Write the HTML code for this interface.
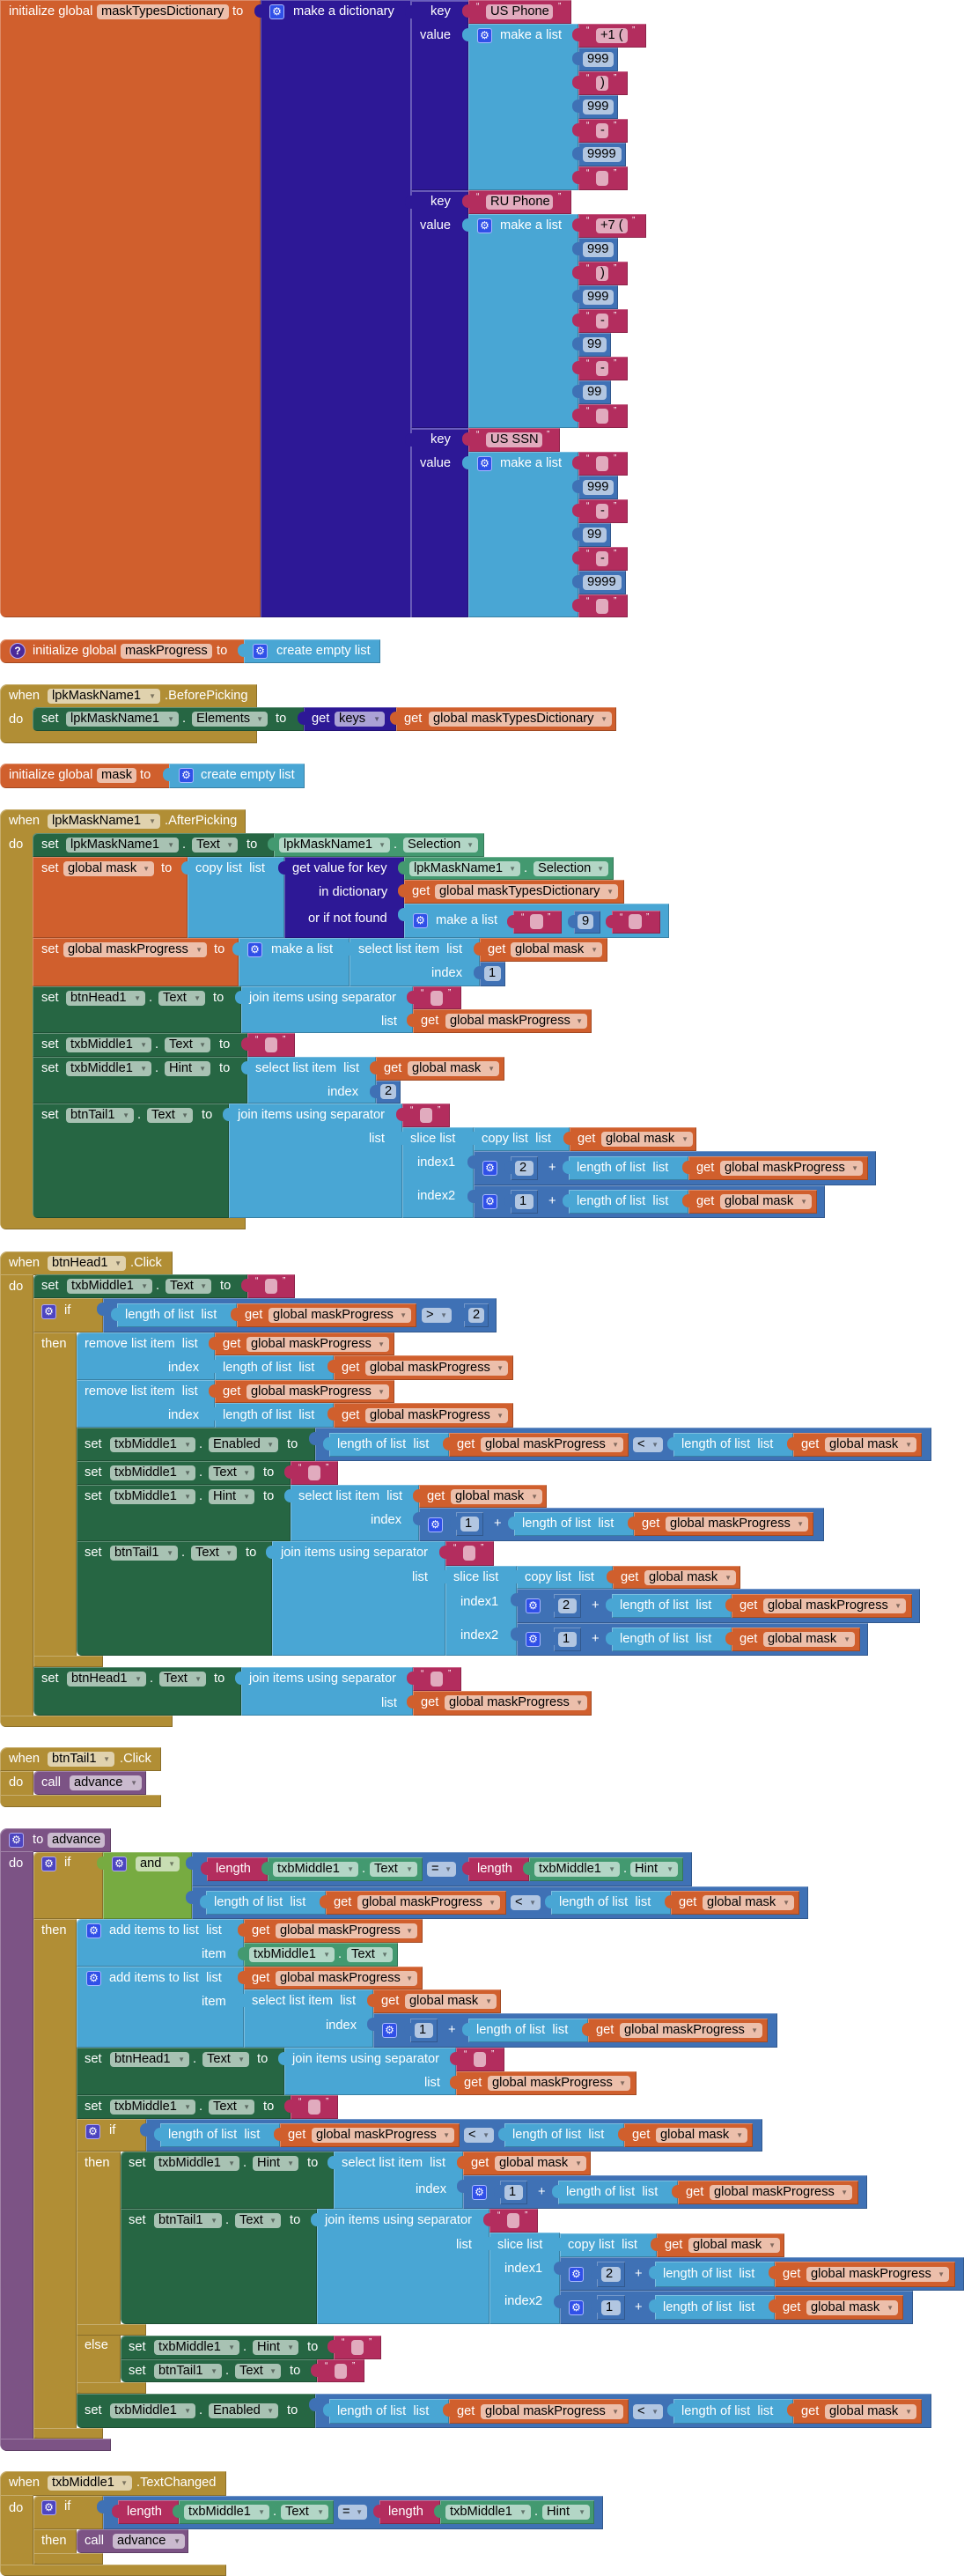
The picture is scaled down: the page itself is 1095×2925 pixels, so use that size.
<!DOCTYPE html>
<html><head><meta charset="utf-8"><style>
*{margin:0;padding:0;box-sizing:border-box}
html,body{width:1095px;height:2925px;background:#fff;overflow:hidden}
body{position:relative;font-family:"Liberation Sans",Arial,sans-serif;font-size:14.67px}
.b{position:absolute;box-shadow:inset 1px 1px 0 rgba(255,255,255,.28),inset -1px -1px 0 rgba(0,0,0,.22)}
.O{background:#d05f2d}.D{background:#2d1896}.L{background:#49a6d4}.T{background:#b32d5e}.M{background:#3f71b5}.S{background:#266643}.G{background:#439970}.C{background:#b18e35}.N{background:#77ab41}.P{background:#7c5385}
.v::before{content:"";position:absolute;left:-7px;top:5px;width:8px;height:15px;background:inherit;border-radius:7px 0 0 7px}
.pr{border-left:1px solid #6a5fc0;border-top:1px solid #6a5fc0}
i{position:absolute;font-style:normal;color:#fff;line-height:17px;white-space:nowrap}
em{position:absolute;font-style:normal;color:#000;height:17px;line-height:17px;padding-left:5px;border-radius:4px;background:rgba(255,255,255,.6);white-space:nowrap}
em b{position:absolute;right:5px;top:0;font-size:8px;color:rgba(0,0,0,.45);font-weight:normal}
.g{position:absolute;width:17px;height:17px;border-radius:3px;background:#3050e8;border:1px solid #a8b8ff;color:#fff;font-size:12px;line-height:15px;text-align:center;font-family:"DejaVu Sans",sans-serif}
.gp{background:#4d45c0;border-color:#b0a8f0}
.q{position:absolute;color:#fff;font-size:10px;line-height:10px;font-style:normal}
.qi{position:absolute;width:18px;height:18px;border-radius:9px;background:#4a2a9a;border:1px solid #c0b0ee;color:#fff;font-size:12px;line-height:16px;text-align:center;font-weight:bold}
</style></head><body>

<!-- ===== initialize global maskTypesDictionary ===== -->
<div class="b O" style="left:0;top:0;width:296px;height:701px;border-radius:0 0 0 7px"></div>
<i style="left:10px;top:5px">initialize global</i>
<em style="left:110px;top:5px;width:150px">maskTypesDictionary</em>
<i style="left:264px;top:5px">to</i>
<div class="b D v" style="left:296px;top:0;width:171px;height:701px"></div>
<span class="g" style="left:306px;top:5px">⚙</span>
<i style="left:333px;top:5px">make a dictionary</i>

<div class="b D v pr" style="left:466px;top:0;width:66px;height:216px"></div>
<i style="left:489px;top:5px">key</i><i style="left:477px;top:32px">value</i>
<div class="b D v pr" style="left:466px;top:216px;width:66px;height:270px"></div>
<i style="left:489px;top:221px">key</i><i style="left:477px;top:248px">value</i>
<div class="b D v pr" style="left:466px;top:486px;width:66px;height:215px"></div>
<i style="left:489px;top:491px">key</i><i style="left:477px;top:518px">value</i>

<!-- pair 1 -->
<div class="b T v" style="left:532px;top:0;width:117px;height:27px"></div>
<i class="q" style="left:541px;top:3px">“</i><em style="left:552px;top:5px;width:76px">US Phone</em><i class="q" style="left:634px;top:3px">”</i>
<div class="b L v" style="left:532px;top:27px;width:125px;height:189px"></div>
<span class="g" style="left:542px;top:32px">⚙</span><i style="left:568px;top:32px">make a list</i>

<div class="b T v" style="left:657px;top:27px;width:77px;height:27px"></div>
<i class="q" style="left:666px;top:30px">“</i><em style="left:677px;top:32px;width:36px">+1 (</em><i class="q" style="left:718px;top:30px">”</i>
<div class="b M v" style="left:657px;top:54px;width:45px;height:27px"></div><em style="left:662px;top:59px;width:35px">999</em>
<div class="b T v" style="left:657px;top:81px;width:56px;height:27px"></div>
<i class="q" style="left:666px;top:84px">“</i><em style="left:677px;top:86px;width:14px">)</em><i class="q" style="left:697px;top:84px">”</i>
<div class="b M v" style="left:657px;top:108px;width:45px;height:27px"></div><em style="left:662px;top:113px;width:35px">999</em>
<div class="b T v" style="left:657px;top:135px;width:56px;height:27px"></div>
<i class="q" style="left:666px;top:138px">“</i><em style="left:677px;top:140px;width:14px">-</em><i class="q" style="left:697px;top:138px">”</i>
<div class="b M v" style="left:657px;top:162px;width:54px;height:27px"></div><em style="left:662px;top:167px;width:44px">9999</em>
<div class="b T v" style="left:657px;top:189px;width:56px;height:27px"></div>
<i class="q" style="left:666px;top:192px">“</i><em style="left:677px;top:194px;width:14px"></em><i class="q" style="left:697px;top:192px">”</i>

<!-- pair 2 -->
<div class="b T v" style="left:532px;top:216px;width:117px;height:27px"></div>
<i class="q" style="left:541px;top:219px">“</i><em style="left:552px;top:221px;width:76px">RU Phone</em><i class="q" style="left:634px;top:219px">”</i>
<div class="b L v" style="left:532px;top:243px;width:125px;height:243px"></div>
<span class="g" style="left:542px;top:248px">⚙</span><i style="left:568px;top:248px">make a list</i>

<div class="b T v" style="left:657px;top:243px;width:77px;height:27px"></div>
<i class="q" style="left:666px;top:246px">“</i><em style="left:677px;top:248px;width:36px">+7 (</em><i class="q" style="left:718px;top:246px">”</i>
<div class="b M v" style="left:657px;top:270px;width:45px;height:27px"></div><em style="left:662px;top:275px;width:35px">999</em>
<div class="b T v" style="left:657px;top:297px;width:56px;height:27px"></div>
<i class="q" style="left:666px;top:300px">“</i><em style="left:677px;top:302px;width:14px">)</em><i class="q" style="left:697px;top:300px">”</i>
<div class="b M v" style="left:657px;top:324px;width:45px;height:27px"></div><em style="left:662px;top:329px;width:35px">999</em>
<div class="b T v" style="left:657px;top:351px;width:56px;height:27px"></div>
<i class="q" style="left:666px;top:354px">“</i><em style="left:677px;top:356px;width:14px">-</em><i class="q" style="left:697px;top:354px">”</i>
<div class="b M v" style="left:657px;top:378px;width:37px;height:27px"></div><em style="left:662px;top:383px;width:27px">99</em>
<div class="b T v" style="left:657px;top:405px;width:56px;height:27px"></div>
<i class="q" style="left:666px;top:408px">“</i><em style="left:677px;top:410px;width:14px">-</em><i class="q" style="left:697px;top:408px">”</i>
<div class="b M v" style="left:657px;top:432px;width:37px;height:27px"></div><em style="left:662px;top:437px;width:27px">99</em>
<div class="b T v" style="left:657px;top:459px;width:56px;height:27px"></div>
<i class="q" style="left:666px;top:462px">“</i><em style="left:677px;top:464px;width:14px"></em><i class="q" style="left:697px;top:462px">”</i>

<!-- pair 3 -->
<div class="b T v" style="left:532px;top:486px;width:104px;height:27px"></div>
<i class="q" style="left:541px;top:489px">“</i><em style="left:552px;top:491px;width:64px">US SSN</em><i class="q" style="left:621px;top:489px">”</i>
<div class="b L v" style="left:532px;top:513px;width:125px;height:188px"></div>
<span class="g" style="left:542px;top:518px">⚙</span><i style="left:568px;top:518px">make a list</i>

<div class="b T v" style="left:657px;top:513px;width:56px;height:27px"></div>
<i class="q" style="left:666px;top:516px">“</i><em style="left:677px;top:518px;width:14px"></em><i class="q" style="left:697px;top:516px">”</i>
<div class="b M v" style="left:657px;top:540px;width:45px;height:27px"></div><em style="left:662px;top:545px;width:35px">999</em>
<div class="b T v" style="left:657px;top:567px;width:56px;height:27px"></div>
<i class="q" style="left:666px;top:570px">“</i><em style="left:677px;top:572px;width:14px">-</em><i class="q" style="left:697px;top:570px">”</i>
<div class="b M v" style="left:657px;top:594px;width:37px;height:27px"></div><em style="left:662px;top:599px;width:27px">99</em>
<div class="b T v" style="left:657px;top:621px;width:56px;height:27px"></div>
<i class="q" style="left:666px;top:624px">“</i><em style="left:677px;top:626px;width:14px">-</em><i class="q" style="left:697px;top:624px">”</i>
<div class="b M v" style="left:657px;top:648px;width:54px;height:27px"></div><em style="left:662px;top:653px;width:44px">9999</em>
<div class="b T v" style="left:657px;top:675px;width:56px;height:26px"></div>
<i class="q" style="left:666px;top:678px">“</i><em style="left:677px;top:680px;width:14px"></em><i class="q" style="left:697px;top:678px">”</i>

<!-- ===== initialize global maskProgress ===== -->
<div class="b O" style="left:0;top:726px;width:278px;height:27px;border-radius:7px 0 0 7px"></div>
<span class="qi" style="left:11px;top:730px">?</span>
<i style="left:37px;top:731px">initialize global</i>
<em style="left:137px;top:731px;width:104px">maskProgress</em>
<i style="left:246px;top:731px">to</i>
<div class="b L v" style="left:277px;top:726px;width:155px;height:27px"></div>
<span class="g" style="left:287px;top:731px">⚙</span>
<i style="left:314px;top:731px">create empty list</i>

<!-- ===== when lpkMaskName1.BeforePicking ===== -->
<div class="b C" style="left:0;top:777px;width:292px;height:67px;border-radius:8px 0 0 7px"></div>
<i style="left:10px;top:782px">when</i>
<em style="left:54px;top:782px;width:128px">lpkMaskName1<b>▼</b></em>
<i style="left:187px;top:782px">.BeforePicking</i>
<i style="left:10px;top:809px">do</i>
<div class="b S" style="left:37px;top:803px;width:308px;height:27px;border-radius:5px 0 0 5px"></div>
<i style="left:47px;top:808px">set</i>
<em style="left:75px;top:808px;width:128px">lpkMaskName1<b>▼</b></em>
<i style="left:207px;top:808px">.</i>
<em style="left:218px;top:808px;width:86px">Elements<b>▼</b></em>
<i style="left:313px;top:808px">to</i>
<div class="b D v" style="left:345px;top:803px;width:105px;height:27px"></div>
<i style="left:354px;top:808px">get</i>
<em style="left:380px;top:808px;width:57px">keys<b>▼</b></em>
<div class="b O v" style="left:450px;top:803px;width:250px;height:27px"></div>
<i style="left:459px;top:808px">get</i>
<em style="left:487px;top:808px;width:208px">global maskTypesDictionary<b>▼</b></em>

<!-- ===== initialize global mask ===== -->
<div class="b O" style="left:0;top:867px;width:193px;height:28px;border-radius:7px 0 0 7px"></div>
<i style="left:10px;top:872px">initialize global</i>
<em style="left:110px;top:872px;width:45px">mask</em>
<i style="left:159px;top:872px">to</i>
<div class="b L v" style="left:192px;top:867px;width:154px;height:28px"></div>
<span class="g" style="left:203px;top:872px">⚙</span>
<i style="left:228px;top:872px">create empty list</i>

<!-- ===== when lpkMaskName1.AfterPicking ===== -->
<div class="b C" style="left:0;top:919px;width:279px;height:477px;border-radius:8px 0 0 7px"></div>
<i style="left:10px;top:924px">when</i>
<em style="left:54px;top:924px;width:128px">lpkMaskName1<b>▼</b></em>
<i style="left:187px;top:924px">.AfterPicking</i>
<i style="left:10px;top:951px">do</i>

<div class="b S" style="left:37px;top:946px;width:274px;height:27px;border-radius:5px 0 0 0"></div>
<i style="left:47px;top:951px">set</i>
<em style="left:75px;top:951px;width:128px">lpkMaskName1<b>▼</b></em>
<i style="left:207px;top:951px">.</i>
<em style="left:218px;top:951px;width:52px">Text<b>▼</b></em>
<i style="left:280px;top:951px">to</i>
<div class="b G v" style="left:311px;top:946px;width:239px;height:27px"></div>
<em style="left:317px;top:951px;width:126px">lpkMaskName1<b>▼</b></em>
<i style="left:447px;top:951px">.</i>
<em style="left:458px;top:951px;width:85px">Selection<b>▼</b></em>

<div class="b O" style="left:37px;top:973px;width:176px;height:92px"></div>
<i style="left:47px;top:978px">set</i>
<em style="left:72px;top:978px;width:103px">global mask<b>▼</b></em>
<i style="left:183px;top:978px">to</i>
<div class="b L v" style="left:213px;top:973px;width:110px;height:92px"></div>
<i style="left:222px;top:978px">copy list&nbsp; list</i>
<div class="b D v" style="left:323px;top:973px;width:136px;height:92px"></div>
<i style="left:332px;top:978px">get value for key</i>
<i style="left:362px;top:1005px">in dictionary</i>
<i style="left:350px;top:1035px">or if not found</i>
<div class="b G v" style="left:459px;top:973px;width:238px;height:26px"></div>
<em style="left:465px;top:978px;width:126px">lpkMaskName1<b>▼</b></em>
<i style="left:595px;top:978px">.</i>
<em style="left:606px;top:978px;width:85px">Selection<b>▼</b></em>
<div class="b O v" style="left:459px;top:999px;width:250px;height:27px"></div>
<i style="left:468px;top:1004px">get</i>
<em style="left:494px;top:1004px;width:208px">global maskTypesDictionary<b>▼</b></em>
<div class="b L v" style="left:459px;top:1026px;width:301px;height:39px"></div>
<span class="g" style="left:469px;top:1037px">⚙</span>
<i style="left:495px;top:1037px">make a list</i>
<div class="b T v" style="left:583px;top:1034px;width:55px;height:26px"></div>
<i class="q" style="left:592px;top:1037px">“</i><em style="left:602px;top:1038px;width:15px"></em><i class="q" style="left:622px;top:1037px">”</i>
<div class="b M v" style="left:652px;top:1034px;width:30px;height:26px"></div><em style="left:656px;top:1038px;width:18px">9</em>
<div class="b T v" style="left:695px;top:1034px;width:55px;height:26px"></div>
<i class="q" style="left:704px;top:1037px">“</i><em style="left:714px;top:1038px;width:15px"></em><i class="q" style="left:734px;top:1037px">”</i>

<div class="b O" style="left:37px;top:1065px;width:234px;height:55px"></div>
<i style="left:47px;top:1070px">set</i>
<em style="left:72px;top:1070px;width:163px">global maskProgress<b>▼</b></em>
<i style="left:243px;top:1070px">to</i>
<div class="b L v" style="left:271px;top:1065px;width:126px;height:55px"></div>
<span class="g" style="left:281px;top:1070px">⚙</span>
<i style="left:308px;top:1070px">make a list</i>
<div class="b L v" style="left:397px;top:1065px;width:148px;height:55px"></div>
<i style="left:407px;top:1070px">select list item&nbsp; list</i>
<i style="left:490px;top:1097px">index</i>
<div class="b O v" style="left:545px;top:1065px;width:145px;height:27px"></div>
<i style="left:554px;top:1070px">get</i>
<em style="left:580px;top:1070px;width:104px">global mask<b>▼</b></em>
<div class="b M v" style="left:545px;top:1092px;width:29px;height:28px"></div><em style="left:550px;top:1097px;width:19px">1</em>

<div class="b S" style="left:37px;top:1120px;width:237px;height:53px"></div>
<i style="left:47px;top:1125px">set</i>
<em style="left:75px;top:1125px;width:90px">btnHead1<b>▼</b></em>
<i style="left:169px;top:1125px">.</i>
<em style="left:180px;top:1125px;width:53px">Text<b>▼</b></em>
<i style="left:242px;top:1125px">to</i>
<div class="b L v" style="left:274px;top:1120px;width:195px;height:53px"></div>
<i style="left:283px;top:1125px">join items using separator</i>
<i style="left:433px;top:1152px">list</i>
<div class="b T v" style="left:469px;top:1120px;width:55px;height:26px"></div>
<i class="q" style="left:478px;top:1123px">“</i><em style="left:489px;top:1125px;width:14px"></em><i class="q" style="left:509px;top:1123px">”</i>
<div class="b O v" style="left:469px;top:1146px;width:203px;height:27px"></div>
<i style="left:478px;top:1151px">get</i>
<em style="left:506px;top:1151px;width:161px">global maskProgress<b>▼</b></em>

<div class="b S" style="left:37px;top:1173px;width:244px;height:27px"></div>
<i style="left:47px;top:1178px">set</i>
<em style="left:75px;top:1178px;width:97px">txbMiddle1<b>▼</b></em>
<i style="left:176px;top:1178px">.</i>
<em style="left:187px;top:1178px;width:52px">Text<b>▼</b></em>
<i style="left:249px;top:1178px">to</i>
<div class="b T v" style="left:281px;top:1173px;width:54px;height:27px"></div>
<i class="q" style="left:290px;top:1176px">“</i><em style="left:301px;top:1178px;width:14px"></em><i class="q" style="left:321px;top:1176px">”</i>

<div class="b S" style="left:37px;top:1200px;width:244px;height:53px"></div>
<i style="left:47px;top:1205px">set</i>
<em style="left:75px;top:1205px;width:97px">txbMiddle1<b>▼</b></em>
<i style="left:176px;top:1205px">.</i>
<em style="left:187px;top:1205px;width:52px">Hint<b>▼</b></em>
<i style="left:249px;top:1205px">to</i>
<div class="b L v" style="left:281px;top:1200px;width:146px;height:53px"></div>
<i style="left:290px;top:1205px">select list item&nbsp; list</i>
<i style="left:372px;top:1232px">index</i>
<div class="b O v" style="left:427px;top:1200px;width:146px;height:27px"></div>
<i style="left:436px;top:1205px">get</i>
<em style="left:463px;top:1205px;width:104px">global mask<b>▼</b></em>
<div class="b M v" style="left:427px;top:1227px;width:28px;height:26px"></div><em style="left:432px;top:1231px;width:18px">2</em>

<div class="b S" style="left:37px;top:1253px;width:223px;height:130px;border-radius:0 0 0 6px"></div>
<i style="left:47px;top:1258px">set</i>
<em style="left:75px;top:1258px;width:77px">btnTail1<b>▼</b></em>
<i style="left:156px;top:1258px">.</i>
<em style="left:167px;top:1258px;width:52px">Text<b>▼</b></em>
<i style="left:229px;top:1258px">to</i>
<div class="b L v" style="left:260px;top:1253px;width:197px;height:130px"></div>
<i style="left:270px;top:1258px">join items using separator</i>
<i style="left:419px;top:1285px">list</i>
<div class="b T v" style="left:457px;top:1253px;width:54px;height:27px"></div>
<i class="q" style="left:466px;top:1256px">“</i><em style="left:477px;top:1258px;width:14px"></em><i class="q" style="left:497px;top:1256px">”</i>
<div class="b L v" style="left:457px;top:1280px;width:81px;height:103px"></div>
<i style="left:466px;top:1285px">slice list</i>
<i style="left:474px;top:1312px">index1</i>
<i style="left:474px;top:1350px">index2</i>
<div class="b L v" style="left:538px;top:1280px;width:109px;height:27px"></div>
<i style="left:547px;top:1285px">copy list&nbsp; list</i>
<div class="b O v" style="left:647px;top:1280px;width:144px;height:27px"></div>
<i style="left:656px;top:1285px">get</i>
<em style="left:683px;top:1285px;width:104px">global mask<b>▼</b></em>
<div class="b M v" style="left:538px;top:1307px;width:457px;height:39px"></div>
<span class="g" style="left:548px;top:1318px">⚙</span>
<div class="b M v" style="left:580px;top:1313px;width:31px;height:27px"></div><em style="left:585px;top:1318px;width:21px">2</em>
<i style="left:623px;top:1318px">+</i>
<div class="b L v" style="left:646px;top:1313px;width:136px;height:27px"></div>
<i style="left:655px;top:1318px">length of list&nbsp; list</i>
<div class="b O v" style="left:782px;top:1313px;width:204px;height:27px"></div>
<i style="left:791px;top:1318px">get</i>
<em style="left:818px;top:1318px;width:162px">global maskProgress<b>▼</b></em>
<div class="b M v" style="left:538px;top:1346px;width:399px;height:37px"></div>
<span class="g" style="left:548px;top:1356px">⚙</span>
<div class="b M v" style="left:580px;top:1351px;width:31px;height:27px"></div><em style="left:585px;top:1356px;width:21px">1</em>
<i style="left:623px;top:1356px">+</i>
<div class="b L v" style="left:646px;top:1351px;width:136px;height:27px"></div>
<i style="left:655px;top:1356px">length of list&nbsp; list</i>
<div class="b O v" style="left:782px;top:1351px;width:146px;height:27px"></div>
<i style="left:791px;top:1356px">get</i>
<em style="left:818px;top:1356px;width:104px">global mask<b>▼</b></em>

<!-- ===== when btnHead1.Click ===== -->
<div class="b C" style="left:0;top:1421px;width:196px;height:27px;border-radius:8px 0 0 0"></div>
<div class="b C" style="left:0;top:1447px;width:38px;height:514px;border-radius:0 0 0 7px"></div>
<div class="b C" style="left:0;top:1948px;width:196px;height:13px;border-radius:0 0 0 7px"></div>
<i style="left:10px;top:1426px">when</i>
<em style="left:54px;top:1426px;width:89px">btnHead1<b>▼</b></em>
<i style="left:148px;top:1426px">.Click</i>
<i style="left:10px;top:1453px">do</i>

<div class="b S" style="left:38px;top:1447px;width:243px;height:27px;border-radius:5px 0 0 0"></div>
<i style="left:47px;top:1452px">set</i>
<em style="left:76px;top:1452px;width:97px">txbMiddle1<b>▼</b></em>
<i style="left:177px;top:1452px">.</i>
<em style="left:188px;top:1452px;width:52px">Text<b>▼</b></em>
<i style="left:250px;top:1452px">to</i>
<div class="b T v" style="left:281px;top:1447px;width:54px;height:27px"></div>
<i class="q" style="left:290px;top:1450px">“</i><em style="left:301px;top:1452px;width:14px"></em><i class="q" style="left:321px;top:1450px">”</i>

<div class="b C" style="left:38px;top:1474px;width:79px;height:39px"></div>
<div class="b C" style="left:38px;top:1513px;width:49px;height:380px"></div>
<div class="b C" style="left:38px;top:1880px;width:79px;height:13px;border-radius:0 0 0 6px"></div>
<span class="g gp" style="left:47px;top:1481px">⚙</span>
<i style="left:73px;top:1480px">if</i>
<i style="left:47px;top:1518px">then</i>
<div class="b M v" style="left:117px;top:1474px;width:447px;height:39px"></div>
<div class="b L v" style="left:133px;top:1480px;width:136px;height:27px"></div>
<i style="left:142px;top:1485px">length of list&nbsp; list</i>
<div class="b O v" style="left:269px;top:1480px;width:204px;height:27px"></div>
<i style="left:278px;top:1485px">get</i>
<em style="left:305px;top:1485px;width:162px">global maskProgress<b>▼</b></em>
<em style="left:479px;top:1485px;width:34px">&gt;<b>▼</b></em>
<div class="b M v" style="left:527px;top:1480px;width:28px;height:27px"></div><em style="left:532px;top:1485px;width:18px">2</em>

<div class="b L" style="left:87px;top:1513px;width:157px;height:54px;border-radius:5px 0 0 0"></div>
<i style="left:96px;top:1518px">remove list item&nbsp; list</i>
<i style="left:191px;top:1545px">index</i>
<div class="b O v" style="left:244px;top:1513px;width:204px;height:26px"></div>
<i style="left:253px;top:1518px">get</i>
<em style="left:280px;top:1518px;width:162px">global maskProgress<b>▼</b></em>
<div class="b L v" style="left:244px;top:1539px;width:135px;height:28px"></div>
<i style="left:253px;top:1545px">length of list&nbsp; list</i>
<div class="b O v" style="left:379px;top:1539px;width:204px;height:28px"></div>
<i style="left:388px;top:1545px">get</i>
<em style="left:415px;top:1545px;width:162px">global maskProgress<b>▼</b></em>

<div class="b L" style="left:87px;top:1567px;width:157px;height:54px"></div>
<i style="left:96px;top:1572px">remove list item&nbsp; list</i>
<i style="left:191px;top:1599px">index</i>
<div class="b O v" style="left:244px;top:1567px;width:204px;height:26px"></div>
<i style="left:253px;top:1572px">get</i>
<em style="left:280px;top:1572px;width:162px">global maskProgress<b>▼</b></em>
<div class="b L v" style="left:244px;top:1593px;width:135px;height:28px"></div>
<i style="left:253px;top:1599px">length of list&nbsp; list</i>
<div class="b O v" style="left:379px;top:1593px;width:204px;height:28px"></div>
<i style="left:388px;top:1599px">get</i>
<em style="left:415px;top:1599px;width:162px">global maskProgress<b>▼</b></em>

<div class="b S" style="left:87px;top:1621px;width:271px;height:38px"></div>
<i style="left:96px;top:1632px">set</i>
<em style="left:125px;top:1632px;width:97px">txbMiddle1<b>▼</b></em>
<i style="left:226px;top:1632px">.</i>
<em style="left:237px;top:1632px;width:79px">Enabled<b>▼</b></em>
<i style="left:326px;top:1632px">to</i>
<div class="b M v" style="left:358px;top:1621px;width:700px;height:38px"></div>
<div class="b L v" style="left:374px;top:1627px;width:136px;height:27px"></div>
<i style="left:383px;top:1632px">length of list&nbsp; list</i>
<div class="b O v" style="left:510px;top:1627px;width:204px;height:27px"></div>
<i style="left:519px;top:1632px">get</i>
<em style="left:546px;top:1632px;width:162px">global maskProgress<b>▼</b></em>
<em style="left:719px;top:1632px;width:34px">&lt;<b>▼</b></em>
<div class="b L v" style="left:765px;top:1627px;width:136px;height:27px"></div>
<i style="left:774px;top:1632px">length of list&nbsp; list</i>
<div class="b O v" style="left:901px;top:1627px;width:146px;height:27px"></div>
<i style="left:910px;top:1632px">get</i>
<em style="left:937px;top:1632px;width:104px">global mask<b>▼</b></em>

<div class="b S" style="left:87px;top:1659px;width:243px;height:27px"></div>
<i style="left:96px;top:1664px">set</i>
<em style="left:125px;top:1664px;width:97px">txbMiddle1<b>▼</b></em>
<i style="left:226px;top:1664px">.</i>
<em style="left:237px;top:1664px;width:52px">Text<b>▼</b></em>
<i style="left:299px;top:1664px">to</i>
<div class="b T v" style="left:330px;top:1659px;width:54px;height:27px"></div>
<i class="q" style="left:339px;top:1662px">“</i><em style="left:350px;top:1664px;width:14px"></em><i class="q" style="left:370px;top:1662px">”</i>

<div class="b S" style="left:87px;top:1686px;width:243px;height:64px"></div>
<i style="left:96px;top:1691px">set</i>
<em style="left:125px;top:1691px;width:97px">txbMiddle1<b>▼</b></em>
<i style="left:226px;top:1691px">.</i>
<em style="left:237px;top:1691px;width:52px">Hint<b>▼</b></em>
<i style="left:299px;top:1691px">to</i>
<div class="b L v" style="left:330px;top:1686px;width:146px;height:64px"></div>
<i style="left:339px;top:1691px">select list item&nbsp; list</i>
<i style="left:421px;top:1718px">index</i>
<div class="b O v" style="left:476px;top:1686px;width:145px;height:26px"></div>
<i style="left:485px;top:1691px">get</i>
<em style="left:512px;top:1691px;width:104px">global mask<b>▼</b></em>
<div class="b M v" style="left:476px;top:1712px;width:460px;height:38px"></div>
<span class="g" style="left:486px;top:1723px">⚙</span>
<div class="b M v" style="left:518px;top:1717px;width:31px;height:27px"></div><em style="left:523px;top:1722px;width:21px">1</em>
<i style="left:561px;top:1722px">+</i>
<div class="b L v" style="left:584px;top:1717px;width:136px;height:27px"></div>
<i style="left:593px;top:1722px">length of list&nbsp; list</i>
<div class="b O v" style="left:720px;top:1717px;width:204px;height:27px"></div>
<i style="left:729px;top:1722px">get</i>
<em style="left:756px;top:1722px;width:162px">global maskProgress<b>▼</b></em>

<div class="b S" style="left:87px;top:1750px;width:222px;height:130px;border-radius:0 0 0 6px"></div>
<i style="left:96px;top:1755px">set</i>
<em style="left:125px;top:1755px;width:77px">btnTail1<b>▼</b></em>
<i style="left:206px;top:1755px">.</i>
<em style="left:217px;top:1755px;width:52px">Text<b>▼</b></em>
<i style="left:279px;top:1755px">to</i>
<div class="b L v" style="left:309px;top:1750px;width:197px;height:130px"></div>
<i style="left:319px;top:1755px">join items using separator</i>
<i style="left:468px;top:1783px">list</i>
<div class="b T v" style="left:506px;top:1750px;width:55px;height:28px"></div>
<i class="q" style="left:515px;top:1753px">“</i><em style="left:526px;top:1755px;width:14px"></em><i class="q" style="left:546px;top:1753px">”</i>
<div class="b L v" style="left:506px;top:1778px;width:81px;height:102px"></div>
<i style="left:515px;top:1783px">slice list</i>
<i style="left:523px;top:1811px">index1</i>
<i style="left:523px;top:1849px">index2</i>
<div class="b L v" style="left:587px;top:1778px;width:109px;height:26px"></div>
<i style="left:596px;top:1783px">copy list&nbsp; list</i>
<div class="b O v" style="left:696px;top:1778px;width:145px;height:26px"></div>
<i style="left:705px;top:1783px">get</i>
<em style="left:732px;top:1783px;width:104px">global mask<b>▼</b></em>
<div class="b M v" style="left:587px;top:1804px;width:458px;height:39px"></div>
<span class="g" style="left:597px;top:1815px">⚙</span>
<div class="b M v" style="left:629px;top:1810px;width:31px;height:27px"></div><em style="left:634px;top:1815px;width:21px">2</em>
<i style="left:672px;top:1815px">+</i>
<div class="b L v" style="left:695px;top:1810px;width:136px;height:27px"></div>
<i style="left:704px;top:1815px">length of list&nbsp; list</i>
<div class="b O v" style="left:831px;top:1810px;width:205px;height:27px"></div>
<i style="left:840px;top:1815px">get</i>
<em style="left:867px;top:1815px;width:162px">global maskProgress<b>▼</b></em>
<div class="b M v" style="left:587px;top:1843px;width:399px;height:37px"></div>
<span class="g" style="left:597px;top:1853px">⚙</span>
<div class="b M v" style="left:629px;top:1848px;width:31px;height:27px"></div><em style="left:634px;top:1853px;width:21px">1</em>
<i style="left:672px;top:1853px">+</i>
<div class="b L v" style="left:695px;top:1848px;width:136px;height:27px"></div>
<i style="left:704px;top:1853px">length of list&nbsp; list</i>
<div class="b O v" style="left:831px;top:1848px;width:146px;height:27px"></div>
<i style="left:840px;top:1853px">get</i>
<em style="left:867px;top:1853px;width:104px">global mask<b>▼</b></em>

<div class="b S" style="left:38px;top:1893px;width:236px;height:55px;border-radius:0 0 0 6px"></div>
<i style="left:47px;top:1898px">set</i>
<em style="left:76px;top:1898px;width:90px">btnHead1<b>▼</b></em>
<i style="left:170px;top:1898px">.</i>
<em style="left:181px;top:1898px;width:53px">Text<b>▼</b></em>
<i style="left:243px;top:1898px">to</i>
<div class="b L v" style="left:274px;top:1893px;width:195px;height:55px"></div>
<i style="left:283px;top:1898px">join items using separator</i>
<i style="left:433px;top:1926px">list</i>
<div class="b T v" style="left:469px;top:1893px;width:55px;height:27px"></div>
<i class="q" style="left:478px;top:1896px">“</i><em style="left:489px;top:1898px;width:14px"></em><i class="q" style="left:509px;top:1896px">”</i>
<div class="b O v" style="left:469px;top:1920px;width:203px;height:28px"></div>
<i style="left:478px;top:1925px">get</i>
<em style="left:505px;top:1925px;width:162px">global maskProgress<b>▼</b></em>

<!-- ===== when btnTail1.Click ===== -->
<div class="b C" style="left:0;top:1984px;width:183px;height:27px;border-radius:8px 0 0 0"></div>
<div class="b C" style="left:0;top:2011px;width:38px;height:41px;border-radius:0 0 0 7px"></div>
<div class="b C" style="left:0;top:2038px;width:183px;height:14px;border-radius:0 0 0 7px"></div>
<i style="left:10px;top:1989px">when</i>
<em style="left:54px;top:1989px;width:76px">btnTail1<b>▼</b></em>
<i style="left:136px;top:1989px">.Click</i>
<i style="left:10px;top:2016px">do</i>
<div class="b P" style="left:38px;top:2011px;width:128px;height:27px;border-radius:5px 0 0 5px"></div>
<i style="left:47px;top:2016px">call</i>
<em style="left:79px;top:2016px;width:82px">advance<b>▼</b></em>

<!-- ===== to advance ===== -->
<div class="b P" style="left:0;top:2076px;width:126px;height:27px;border-radius:8px 0 0 0"></div>
<div class="b P" style="left:0;top:2102px;width:38px;height:681px;border-radius:0 0 0 8px"></div>
<div class="b P" style="left:0;top:2769px;width:126px;height:14px;border-radius:0 0 0 8px"></div>
<span class="g gp" style="left:10px;top:2081px">⚙</span>
<i style="left:37px;top:2081px">to</i>
<em style="left:54px;top:2081px;width:65px">advance</em>
<i style="left:10px;top:2108px">do</i>

<div class="b C" style="left:38px;top:2103px;width:79px;height:76px;border-radius:5px 0 0 0"></div>
<div class="b C" style="left:38px;top:2179px;width:49px;height:590px"></div>
<div class="b C" style="left:38px;top:2757px;width:79px;height:12px;border-radius:0 0 0 6px"></div>
<span class="g gp" style="left:47px;top:2108px">⚙</span>
<i style="left:73px;top:2107px">if</i>
<i style="left:47px;top:2184px">then</i>
<div class="b N v" style="left:117px;top:2103px;width:101px;height:76px"></div>
<span class="g gp" style="left:127px;top:2108px">⚙</span>
<em style="left:154px;top:2108px;width:50px">and<b>▼</b></em>

<div class="b M v" style="left:218px;top:2103px;width:568px;height:39px"></div>
<div class="b T v" style="left:235px;top:2109px;width:69px;height:27px"></div>
<i style="left:245px;top:2114px">length</i>
<div class="b G v" style="left:304px;top:2109px;width:176px;height:27px"></div>
<em style="left:310px;top:2114px;width:97px">txbMiddle1<b>▼</b></em>
<i style="left:411px;top:2114px">.</i>
<em style="left:420px;top:2114px;width:54px">Text<b>▼</b></em>
<em style="left:485px;top:2114px;width:33px">=<b>▼</b></em>
<div class="b T v" style="left:532px;top:2109px;width:69px;height:27px"></div>
<i style="left:542px;top:2114px">length</i>
<div class="b G v" style="left:601px;top:2109px;width:175px;height:27px"></div>
<em style="left:607px;top:2114px;width:97px">txbMiddle1<b>▼</b></em>
<i style="left:708px;top:2114px">.</i>
<em style="left:716px;top:2114px;width:54px">Hint<b>▼</b></em>

<div class="b M v" style="left:218px;top:2142px;width:700px;height:37px"></div>
<div class="b L v" style="left:234px;top:2147px;width:136px;height:27px"></div>
<i style="left:243px;top:2152px">length of list&nbsp; list</i>
<div class="b O v" style="left:370px;top:2147px;width:205px;height:27px"></div>
<i style="left:379px;top:2152px">get</i>
<em style="left:406px;top:2152px;width:162px">global maskProgress<b>▼</b></em>
<em style="left:580px;top:2152px;width:34px">&lt;<b>▼</b></em>
<div class="b L v" style="left:626px;top:2147px;width:136px;height:27px"></div>
<i style="left:635px;top:2152px">length of list&nbsp; list</i>
<div class="b O v" style="left:762px;top:2147px;width:146px;height:27px"></div>
<i style="left:771px;top:2152px">get</i>
<em style="left:798px;top:2152px;width:104px">global mask<b>▼</b></em>

<div class="b L" style="left:87px;top:2179px;width:190px;height:54px;border-radius:5px 0 0 0"></div>
<span class="g" style="left:98px;top:2184px">⚙</span>
<i style="left:124px;top:2184px">add items to list&nbsp; list</i>
<i style="left:229px;top:2211px">item</i>
<div class="b O v" style="left:277px;top:2179px;width:203px;height:27px"></div>
<i style="left:286px;top:2184px">get</i>
<em style="left:313px;top:2184px;width:161px">global maskProgress<b>▼</b></em>
<div class="b G v" style="left:277px;top:2206px;width:175px;height:27px"></div>
<em style="left:283px;top:2211px;width:97px">txbMiddle1<b>▼</b></em>
<i style="left:384px;top:2211px">.</i>
<em style="left:394px;top:2211px;width:52px">Text<b>▼</b></em>

<div class="b L" style="left:87px;top:2233px;width:190px;height:92px"></div>
<span class="g" style="left:98px;top:2238px">⚙</span>
<i style="left:124px;top:2238px">add items to list&nbsp; list</i>
<i style="left:229px;top:2265px">item</i>
<div class="b O v" style="left:277px;top:2233px;width:203px;height:26px"></div>
<i style="left:286px;top:2238px">get</i>
<em style="left:313px;top:2238px;width:161px">global maskProgress<b>▼</b></em>
<div class="b L v" style="left:277px;top:2259px;width:147px;height:66px"></div>
<i style="left:286px;top:2264px">select list item&nbsp; list</i>
<i style="left:370px;top:2292px">index</i>
<div class="b O v" style="left:424px;top:2259px;width:145px;height:27px"></div>
<i style="left:433px;top:2264px">get</i>
<em style="left:460px;top:2264px;width:104px">global mask<b>▼</b></em>
<div class="b M v" style="left:424px;top:2286px;width:459px;height:39px"></div>
<span class="g" style="left:434px;top:2297px">⚙</span>
<div class="b M v" style="left:466px;top:2292px;width:31px;height:27px"></div><em style="left:471px;top:2297px;width:21px">1</em>
<i style="left:509px;top:2297px">+</i>
<div class="b L v" style="left:532px;top:2292px;width:136px;height:27px"></div>
<i style="left:541px;top:2297px">length of list&nbsp; list</i>
<div class="b O v" style="left:668px;top:2292px;width:204px;height:27px"></div>
<i style="left:677px;top:2297px">get</i>
<em style="left:704px;top:2297px;width:162px">global maskProgress<b>▼</b></em>

<div class="b S" style="left:87px;top:2325px;width:236px;height:54px"></div>
<i style="left:96px;top:2330px">set</i>
<em style="left:125px;top:2330px;width:90px">btnHead1<b>▼</b></em>
<i style="left:219px;top:2330px">.</i>
<em style="left:230px;top:2330px;width:53px">Text<b>▼</b></em>
<i style="left:292px;top:2330px">to</i>
<div class="b L v" style="left:323px;top:2325px;width:195px;height:54px"></div>
<i style="left:332px;top:2330px">join items using separator</i>
<i style="left:482px;top:2357px">list</i>
<div class="b T v" style="left:518px;top:2325px;width:55px;height:27px"></div>
<i class="q" style="left:527px;top:2328px">“</i><em style="left:538px;top:2330px;width:14px"></em><i class="q" style="left:558px;top:2328px">”</i>
<div class="b O v" style="left:518px;top:2352px;width:205px;height:27px"></div>
<i style="left:527px;top:2357px">get</i>
<em style="left:554px;top:2357px;width:162px">global maskProgress<b>▼</b></em>

<div class="b S" style="left:87px;top:2379px;width:243px;height:27px"></div>
<i style="left:96px;top:2384px">set</i>
<em style="left:125px;top:2384px;width:97px">txbMiddle1<b>▼</b></em>
<i style="left:226px;top:2384px">.</i>
<em style="left:237px;top:2384px;width:52px">Text<b>▼</b></em>
<i style="left:299px;top:2384px">to</i>
<div class="b T v" style="left:330px;top:2379px;width:54px;height:27px"></div>
<i class="q" style="left:339px;top:2382px">“</i><em style="left:350px;top:2384px;width:14px"></em><i class="q" style="left:370px;top:2382px">”</i>

<!-- inner if/else -->
<div class="b C" style="left:87px;top:2406px;width:79px;height:37px"></div>
<div class="b C" style="left:87px;top:2443px;width:50px;height:275px"></div>
<div class="b C" style="left:87px;top:2639px;width:79px;height:13px"></div>
<div class="b C" style="left:87px;top:2705px;width:79px;height:13px;border-radius:0 0 0 6px"></div>
<span class="g gp" style="left:97px;top:2412px">⚙</span>
<i style="left:124px;top:2411px">if</i>
<i style="left:96px;top:2448px">then</i>
<i style="left:96px;top:2655px">else</i>
<div class="b M v" style="left:166px;top:2406px;width:700px;height:37px"></div>
<div class="b L v" style="left:182px;top:2411px;width:136px;height:27px"></div>
<i style="left:191px;top:2416px">length of list&nbsp; list</i>
<div class="b O v" style="left:318px;top:2411px;width:204px;height:27px"></div>
<i style="left:327px;top:2416px">get</i>
<em style="left:354px;top:2416px;width:162px">global maskProgress<b>▼</b></em>
<em style="left:527px;top:2416px;width:34px">&lt;<b>▼</b></em>
<div class="b L v" style="left:573px;top:2411px;width:136px;height:27px"></div>
<i style="left:582px;top:2416px">length of list&nbsp; list</i>
<div class="b O v" style="left:709px;top:2411px;width:146px;height:27px"></div>
<i style="left:718px;top:2416px">get</i>
<em style="left:745px;top:2416px;width:104px">global mask<b>▼</b></em>

<div class="b S" style="left:137px;top:2443px;width:242px;height:65px;border-radius:5px 0 0 0"></div>
<i style="left:146px;top:2448px">set</i>
<em style="left:175px;top:2448px;width:97px">txbMiddle1<b>▼</b></em>
<i style="left:276px;top:2448px">.</i>
<em style="left:287px;top:2448px;width:52px">Hint<b>▼</b></em>
<i style="left:349px;top:2448px">to</i>
<div class="b L v" style="left:379px;top:2443px;width:147px;height:65px"></div>
<i style="left:388px;top:2448px">select list item&nbsp; list</i>
<i style="left:472px;top:2478px">index</i>
<div class="b O v" style="left:526px;top:2443px;width:145px;height:27px"></div>
<i style="left:535px;top:2448px">get</i>
<em style="left:562px;top:2448px;width:104px">global mask<b>▼</b></em>
<div class="b M v" style="left:526px;top:2470px;width:459px;height:38px"></div>
<span class="g" style="left:536px;top:2481px">⚙</span>
<div class="b M v" style="left:568px;top:2476px;width:31px;height:27px"></div><em style="left:573px;top:2481px;width:21px">1</em>
<i style="left:611px;top:2481px">+</i>
<div class="b L v" style="left:634px;top:2476px;width:136px;height:27px"></div>
<i style="left:643px;top:2481px">length of list&nbsp; list</i>
<div class="b O v" style="left:770px;top:2476px;width:205px;height:27px"></div>
<i style="left:779px;top:2481px">get</i>
<em style="left:806px;top:2481px;width:162px">global maskProgress<b>▼</b></em>

<div class="b S" style="left:137px;top:2508px;width:223px;height:131px;border-radius:0 0 0 6px"></div>
<i style="left:146px;top:2513px">set</i>
<em style="left:175px;top:2513px;width:77px">btnTail1<b>▼</b></em>
<i style="left:256px;top:2513px">.</i>
<em style="left:267px;top:2513px;width:52px">Text<b>▼</b></em>
<i style="left:329px;top:2513px">to</i>
<div class="b L v" style="left:360px;top:2508px;width:196px;height:131px"></div>
<i style="left:369px;top:2513px">join items using separator</i>
<i style="left:518px;top:2541px">list</i>
<div class="b T v" style="left:556px;top:2508px;width:55px;height:27px"></div>
<i class="q" style="left:565px;top:2511px">“</i><em style="left:576px;top:2513px;width:14px"></em><i class="q" style="left:596px;top:2511px">”</i>
<div class="b L v" style="left:556px;top:2535px;width:80px;height:104px"></div>
<i style="left:565px;top:2541px">slice list</i>
<i style="left:573px;top:2568px">index1</i>
<i style="left:573px;top:2605px">index2</i>
<div class="b L v" style="left:636px;top:2536px;width:110px;height:27px"></div>
<i style="left:645px;top:2541px">copy list&nbsp; list</i>
<div class="b O v" style="left:746px;top:2536px;width:145px;height:27px"></div>
<i style="left:755px;top:2541px">get</i>
<em style="left:782px;top:2541px;width:104px">global mask<b>▼</b></em>
<div class="b M v" style="left:636px;top:2563px;width:459px;height:38px"></div>
<span class="g" style="left:646px;top:2574px">⚙</span>
<div class="b M v" style="left:678px;top:2568px;width:32px;height:29px"></div><em style="left:683px;top:2574px;width:22px">2</em>
<i style="left:721px;top:2574px">+</i>
<div class="b L v" style="left:744px;top:2568px;width:136px;height:29px"></div>
<i style="left:753px;top:2574px">length of list&nbsp; list</i>
<div class="b O v" style="left:880px;top:2568px;width:205px;height:29px"></div>
<i style="left:889px;top:2574px">get</i>
<em style="left:916px;top:2574px;width:162px">global maskProgress<b>▼</b></em>
<div class="b M v" style="left:636px;top:2601px;width:401px;height:38px"></div>
<span class="g" style="left:646px;top:2612px">⚙</span>
<div class="b M v" style="left:678px;top:2606px;width:32px;height:28px"></div><em style="left:683px;top:2612px;width:22px">1</em>
<i style="left:721px;top:2612px">+</i>
<div class="b L v" style="left:744px;top:2606px;width:136px;height:28px"></div>
<i style="left:753px;top:2612px">length of list&nbsp; list</i>
<div class="b O v" style="left:880px;top:2606px;width:146px;height:28px"></div>
<i style="left:889px;top:2612px">get</i>
<em style="left:916px;top:2612px;width:104px">global mask<b>▼</b></em>

<div class="b S" style="left:137px;top:2652px;width:242px;height:27px;border-radius:5px 0 0 0"></div>
<i style="left:146px;top:2657px">set</i>
<em style="left:175px;top:2657px;width:97px">txbMiddle1<b>▼</b></em>
<i style="left:276px;top:2657px">.</i>
<em style="left:287px;top:2657px;width:52px">Hint<b>▼</b></em>
<i style="left:349px;top:2657px">to</i>
<div class="b T v" style="left:379px;top:2652px;width:54px;height:27px"></div>
<i class="q" style="left:388px;top:2655px">“</i><em style="left:399px;top:2657px;width:14px"></em><i class="q" style="left:419px;top:2655px">”</i>

<div class="b S" style="left:137px;top:2679px;width:223px;height:26px;border-radius:0 0 0 6px"></div>
<i style="left:146px;top:2684px">set</i>
<em style="left:175px;top:2684px;width:77px">btnTail1<b>▼</b></em>
<i style="left:256px;top:2684px">.</i>
<em style="left:267px;top:2684px;width:52px">Text<b>▼</b></em>
<i style="left:329px;top:2684px">to</i>
<div class="b T v" style="left:360px;top:2679px;width:54px;height:26px"></div>
<i class="q" style="left:369px;top:2682px">“</i><em style="left:380px;top:2684px;width:14px"></em><i class="q" style="left:400px;top:2682px">”</i>

<div class="b S" style="left:87px;top:2718px;width:271px;height:39px;border-radius:0 0 0 6px"></div>
<i style="left:96px;top:2729px">set</i>
<em style="left:125px;top:2729px;width:97px">txbMiddle1<b>▼</b></em>
<i style="left:226px;top:2729px">.</i>
<em style="left:237px;top:2729px;width:79px">Enabled<b>▼</b></em>
<i style="left:326px;top:2729px">to</i>
<div class="b M v" style="left:358px;top:2718px;width:700px;height:39px"></div>
<div class="b L v" style="left:374px;top:2724px;width:136px;height:28px"></div>
<i style="left:383px;top:2730px">length of list&nbsp; list</i>
<div class="b O v" style="left:510px;top:2724px;width:204px;height:28px"></div>
<i style="left:519px;top:2730px">get</i>
<em style="left:546px;top:2730px;width:162px">global maskProgress<b>▼</b></em>
<em style="left:719px;top:2730px;width:34px">&lt;<b>▼</b></em>
<div class="b L v" style="left:765px;top:2724px;width:136px;height:28px"></div>
<i style="left:774px;top:2730px">length of list&nbsp; list</i>
<div class="b O v" style="left:901px;top:2724px;width:146px;height:28px"></div>
<i style="left:910px;top:2730px">get</i>
<em style="left:937px;top:2730px;width:104px">global mask<b>▼</b></em>

<!-- ===== when txbMiddle1.TextChanged ===== -->
<div class="b C" style="left:0;top:2806px;width:257px;height:28px;border-radius:8px 0 0 0"></div>
<div class="b C" style="left:0;top:2833px;width:38px;height:92px;border-radius:0 0 0 7px"></div>
<div class="b C" style="left:0;top:2912px;width:257px;height:13px;border-radius:0 0 0 7px"></div>
<i style="left:10px;top:2811px">when</i>
<em style="left:54px;top:2811px;width:96px">txbMiddle1<b>▼</b></em>
<i style="left:155px;top:2811px">.TextChanged</i>
<i style="left:10px;top:2840px">do</i>

<div class="b C" style="left:38px;top:2834px;width:79px;height:38px;border-radius:5px 0 0 0"></div>
<div class="b C" style="left:38px;top:2872px;width:49px;height:40px"></div>
<div class="b C" style="left:38px;top:2899px;width:79px;height:13px;border-radius:0 0 0 6px"></div>
<span class="g gp" style="left:47px;top:2839px">⚙</span>
<i style="left:73px;top:2838px">if</i>
<i style="left:47px;top:2877px">then</i>
<div class="b M v" style="left:117px;top:2834px;width:568px;height:38px"></div>
<div class="b T v" style="left:134px;top:2839px;width:69px;height:27px"></div>
<i style="left:144px;top:2844px">length</i>
<div class="b G v" style="left:203px;top:2839px;width:176px;height:27px"></div>
<em style="left:209px;top:2844px;width:97px">txbMiddle1<b>▼</b></em>
<i style="left:310px;top:2844px">.</i>
<em style="left:319px;top:2844px;width:54px">Text<b>▼</b></em>
<em style="left:384px;top:2844px;width:33px">=<b>▼</b></em>
<div class="b T v" style="left:431px;top:2839px;width:69px;height:27px"></div>
<i style="left:441px;top:2844px">length</i>
<div class="b G v" style="left:500px;top:2839px;width:175px;height:27px"></div>
<em style="left:506px;top:2844px;width:97px">txbMiddle1<b>▼</b></em>
<i style="left:607px;top:2844px">.</i>
<em style="left:616px;top:2844px;width:54px">Hint<b>▼</b></em>
<div class="b P" style="left:87px;top:2872px;width:127px;height:27px;border-radius:5px 0 0 5px"></div>
<i style="left:96px;top:2877px">call</i>
<em style="left:128px;top:2877px;width:82px">advance<b>▼</b></em>

</body></html>
